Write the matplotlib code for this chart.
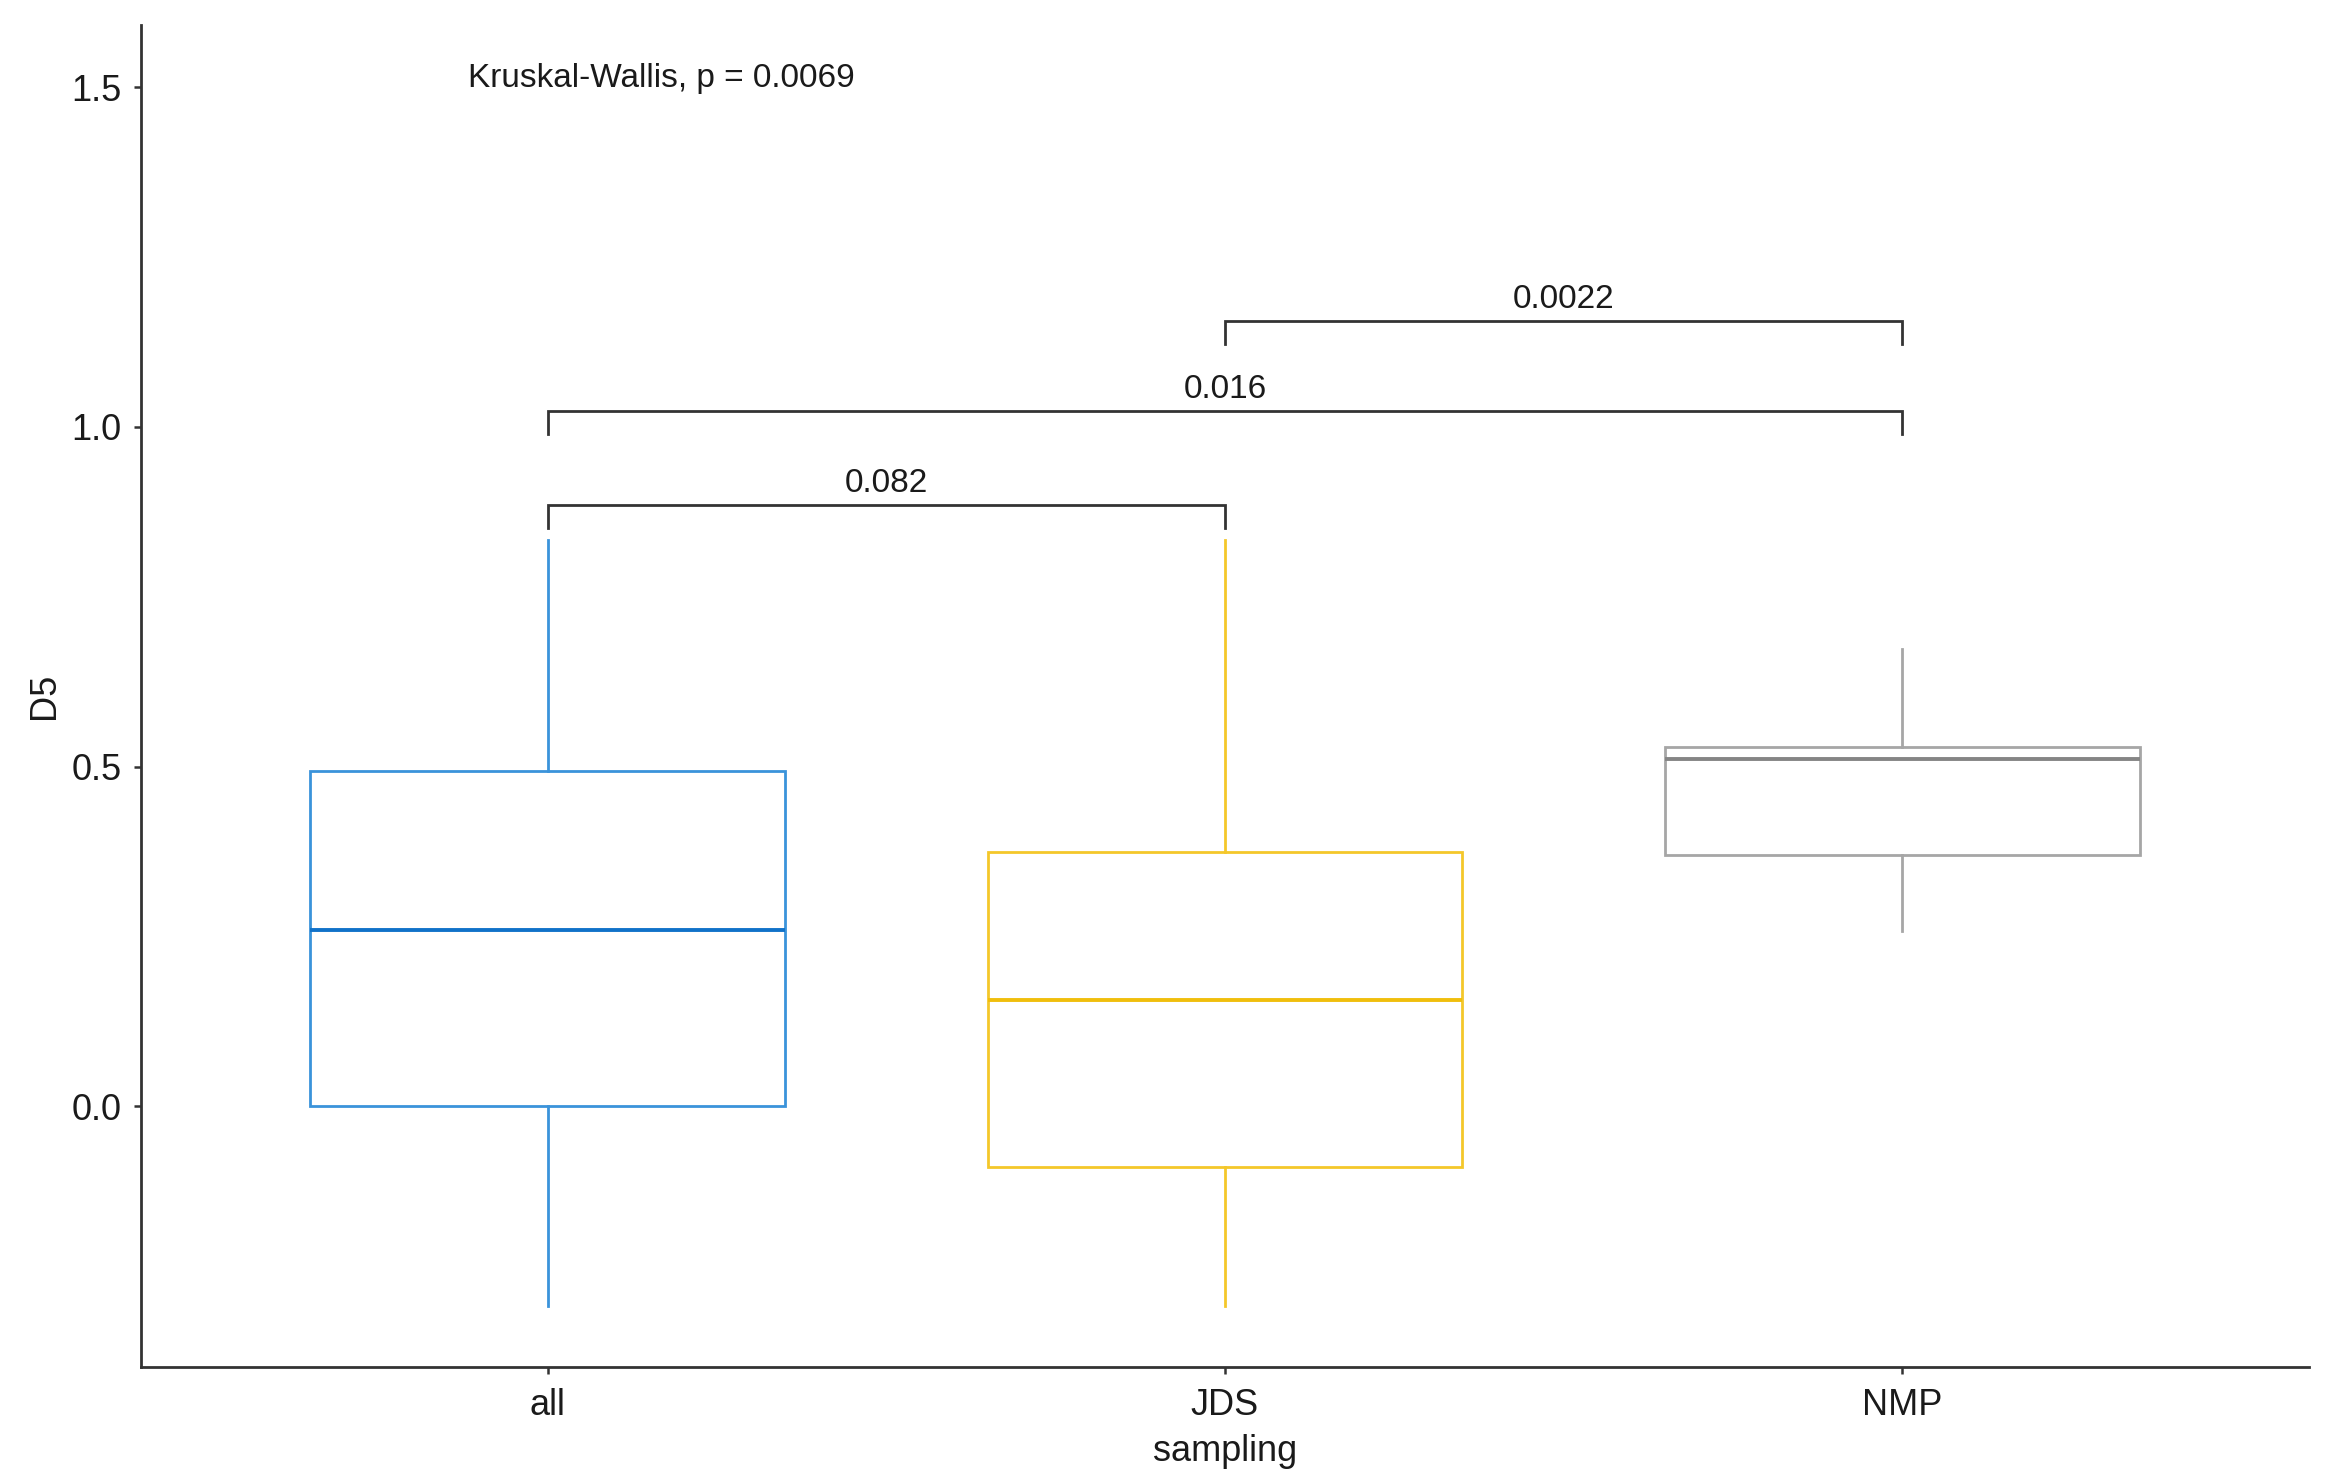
import matplotlib.pyplot as plt

plt.rcParams['font.family'] = ['Liberation Sans', 'DejaVu Sans']

groups = ["all", "JDS", "NMP"]
whisker_low = [-0.294, -0.294, 0.258]
q1 = [0.0, -0.089, 0.370]
medians = [0.259, 0.156, 0.511]
q3 = [0.493, 0.374, 0.529]
whisker_high = [0.833, 0.833, 0.673]

edge_colors = ["#3A93DA", "#F4C72A", "#A6A6A6"]
median_colors = ["#1172C9", "#F0BE0C", "#858585"]

# pairwise comparisons: (group a, group b, bracket height, label)
pair_a = [1, 1, 2]
pair_b = [2, 3, 3]
pair_y = [0.885, 1.023, 1.156]
pair_labels = ["0.082", "0.016", "0.0022"]
tip = 0.034

kw_label = "Kruskal-Wallis, p = 0.0069"

fig = plt.figure(figsize=(23.28, 14.84), dpi=100)
ax = fig.add_axes([0.0606, 0.0789, 0.9312, 0.9043])

stats = []
for i, g in enumerate(groups):
    stats.append({"label": g, "whislo": whisker_low[i], "q1": q1[i], "med": medians[i],
                  "q3": q3[i], "whishi": whisker_high[i], "fliers": []})

for i, s in enumerate(stats):
    ax.bxp([s], positions=[i + 1], widths=0.7, showcaps=False, patch_artist=True,
           boxprops=dict(facecolor="white", edgecolor=edge_colors[i], linewidth=2.0),
           whiskerprops=dict(color=edge_colors[i], linewidth=2.0),
           medianprops=dict(color=median_colors[i], linewidth=2.8))

for a, b, y, lab in zip(pair_a, pair_b, pair_y, pair_labels):
    ax.plot([a, a, b, b], [y - tip, y, y, y - tip], color="#333333", lw=2.0,
            solid_joinstyle="miter")
    ax.text((a + b) / 2, y + 0.019, lab, ha="center", va="baseline", fontsize=24,
            color="#1a1a1a")

ax.text(0.882, 1.513, kw_label, ha="left", va="center", fontsize=24, color="#1a1a1a")

ax.set_xlim(0.4, 3.6)
ax.set_ylim(-0.384, 1.592)
ax.set_xticks([1, 2, 3])
ax.set_xticklabels(groups)
ax.set_yticks([0.0, 0.5, 1.0, 1.5])
ax.set_yticklabels(["0.0", "0.5", "1.0", "1.5"])
ax.tick_params(axis="both", labelsize=26, colors="#333333", length=5, width=1.8,
               labelcolor="#1a1a1a")
ax.tick_params(axis="x", pad=10)
ax.tick_params(axis="y", pad=9)

ax.set_xlabel("sampling", fontsize=26, color="#1a1a1a")
ax.set_ylabel("D5", fontsize=26, color="#1a1a1a")
ax.xaxis.set_label_coords(0.5, -0.0633)
ax.xaxis.label.set_va("center")
ax.yaxis.set_label_coords(-0.0447, 0.5)
ax.yaxis.label.set_va("center")

for side in ["top", "right"]:
    ax.spines[side].set_visible(False)
for side in ["left", "bottom"]:
    ax.spines[side].set_linewidth(2.0)
    ax.spines[side].set_color("#333333")

fig.savefig("out.png", dpi=100)
